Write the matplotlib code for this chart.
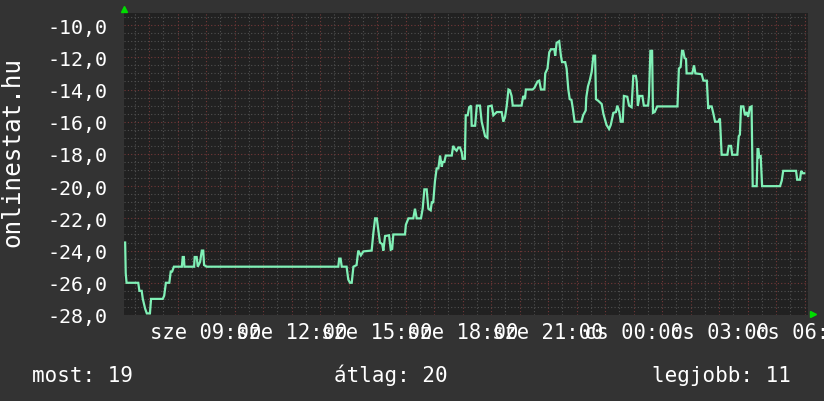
import numpy as np
import matplotlib
matplotlib.use('Agg')
from matplotlib import pyplot as plt
from matplotlib.ticker import FuncFormatter, MultipleLocator

# hours since wed 00:00 and the value
hours = [6.16, 6.18, 6.21, 6.62, 6.66, 6.74, 6.78, 6.86, 6.92, 7.03, 7.07, 7.48, 7.53, 7.59, 7.71,
         7.76, 7.81, 7.87, 8.15, 8.18, 8.22, 8.24, 8.58, 8.60, 8.67, 8.71, 8.79, 8.85, 8.90, 8.93,
         9.02, 13.64, 13.67, 13.72, 13.76, 13.93, 13.99, 14.05, 14.11, 14.17, 14.28, 14.34, 14.43,
         14.52, 14.81, 14.87, 14.93, 14.99, 15.04, 15.10, 15.18, 15.22, 15.28, 15.42, 15.48, 15.53,
         15.57, 15.98, 16.01, 16.10, 16.27, 16.33, 16.39, 16.54, 16.60, 16.66, 16.74, 16.80, 16.88,
         16.92, 16.97, 17.03, 17.09, 17.15, 17.21, 17.27, 17.30, 17.36, 17.41, 17.62, 17.67, 17.73,
         17.79, 17.85, 17.91, 17.97, 18.00, 18.08, 18.11, 18.18, 18.23, 18.30, 18.32, 18.44, 18.50,
         18.61, 18.67, 18.79, 18.87, 18.90, 19.02, 19.08, 19.20, 19.37, 19.43, 19.49, 19.55, 19.61,
         19.66, 19.72, 19.76, 20.07, 20.13, 20.19, 20.22, 20.46, 20.52, 20.63, 20.69, 20.75, 20.87,
         20.90, 20.98, 21.04, 21.10, 21.22, 21.25, 21.30, 21.39, 21.45, 21.49, 21.60, 21.65, 21.71,
         21.76, 21.82, 21.87, 21.93, 22.17, 22.23, 22.32, 22.34, 22.40, 22.46, 22.53, 22.59, 22.65,
         22.68, 22.76, 22.88, 22.94, 23.05, 23.14, 23.20, 23.29, 23.38, 23.43, 23.50, 23.55, 23.62,
         23.66, 23.78, 23.84, 23.93, 23.99, 24.08, 24.11, 24.15, 24.21, 24.31, 24.36, 24.51, 24.54,
         24.59, 24.65, 24.68, 24.74, 24.83, 25.54, 25.59, 25.65, 25.70, 25.74, 25.79, 25.84, 25.86,
         26.06, 26.12, 26.17, 26.39, 26.45, 26.57, 26.62, 26.68, 26.74, 26.80, 26.86, 26.97, 27.03,
         27.09, 27.29, 27.34, 27.42, 27.46, 27.64, 27.69, 27.73, 27.77, 27.85, 27.91, 27.97, 28.02,
         28.08, 28.14, 28.18, 28.32, 28.35, 28.38, 28.41, 28.46, 28.51, 29.14, 29.20, 29.25, 29.70,
         29.74, 29.84, 29.88, 29.93, 29.99]
values = [-23.5, -25.4, -26.0, -26.0, -26.5, -26.5, -27.0, -27.6, -27.9, -27.9, -27.0, -27.0, -26.8,
          -26.0, -26.0, -25.3, -25.3, -25.0, -25.0, -24.4, -24.4, -25.0, -25.0, -24.4, -24.4, -25.0,
          -24.7, -24.0, -24.0, -24.9, -25.0, -25.0, -24.5, -24.5, -25.0, -25.0, -25.8, -26.0, -26.0,
          -25.0, -24.9, -24.0, -24.3, -24.05, -24.0, -22.9, -22.0, -22.0, -22.7, -23.5, -23.6, -24.0,
          -23.1, -23.05, -23.95, -23.9, -23.0, -23.0, -22.4, -22.0, -22.0, -21.4, -22.0, -22.0,
          -21.4, -20.2, -20.2, -21.4, -21.5, -21.0, -21.0, -19.7, -18.9, -18.9, -18.1, -18.8, -18.5,
          -18.5, -18.1, -18.1, -17.5, -17.7, -17.8, -17.6, -17.6, -17.9, -18.3, -18.3, -15.6, -15.6,
          -15.1, -15.0, -16.25, -16.25, -15.0, -15.0, -16.0, -16.9, -17.0, -15.05, -15.0, -15.6,
          -15.4, -15.4, -16.0, -15.7, -15.0, -14.0, -14.05, -14.4, -15.0, -15.0, -14.4, -14.6, -14.0,
          -14.0, -13.9, -13.5, -13.45, -14.0, -14.0, -13.0, -12.7, -11.7, -11.5, -11.5, -11.9, -11.1,
          -11.0, -11.9, -12.3, -12.3, -12.7, -14.0, -14.6, -14.65, -15.2, -16.0, -16.0, -15.6, -15.3,
          -14.5, -13.8, -13.45, -12.9, -11.9, -11.9, -14.6, -14.7, -14.9, -15.5, -16.2, -16.45, -16.2,
          -15.45, -15.4, -15.0, -15.4, -16.0, -16.0, -14.4, -14.45, -15.0, -15.1, -13.15, -13.15,
          -13.5, -15.0, -14.4, -14.4, -15.0, -15.0, -14.4, -11.6, -11.6, -15.45, -15.4, -15.05,
          -15.05, -12.7, -12.6, -11.6, -11.6, -12.05, -12.1, -13.0, -13.0, -12.5, -13.0, -13.05,
          -13.45, -13.45, -15.2, -15.05, -15.05, -15.5, -16.0, -16.0, -15.8, -18.05, -18.05, -17.5,
          -17.5, -18.05, -18.05, -16.9, -16.8, -15.05, -15.05, -15.6, -15.4, -15.7, -15.1, -15.05,
          -20.0, -20.0, -17.7, -17.7, -18.2, -18.15, -20.0, -20.0, -19.65, -19.05, -19.05, -19.6,
          -19.6, -19.05, -19.2, -19.2]

label_hours = [9, 12, 15, 18, 21, 24, 27, 30]
label_text = ['sze 09:00', 'sze 12:00', 'sze 15:00', 'sze 18:00', 'sze 21:00',
              'cs 00:00', 'cs 03:00', 'cs 06:00']
summary = ['most: 19', 'átlag: 20', 'legjobb: 11']

bg = '#333333'
plot_bg = '#212121'
mono = 'DejaVu Sans Mono'

fig = plt.figure(figsize=(8.24, 4.02), dpi=100, facecolor=bg)
ax = fig.add_axes([124/824, 86/402, 684/824, 302/402])
ax.set_facecolor(plot_bg)

ax.plot(hours, values, color='#80f0b6', lw=1.6, solid_joinstyle='miter', zorder=3)

ax.set_xlim(6.12, 30.12)
ax.set_ylim(-28, -9.25)

# x: red line every hour, grey every half hour, label every 3 hours
hour_ticks = np.arange(7, 31)
ax.set_xticks(hour_ticks)
ax.set_xticklabels([label_text[label_hours.index(h)] if h in label_hours else '' for h in hour_ticks])
ax.xaxis.set_minor_locator(MultipleLocator(0.5))
ax.set_yticks(np.arange(-28, -9, 2))
ax.yaxis.set_minor_locator(MultipleLocator(0.5))
ax.yaxis.set_major_formatter(FuncFormatter(lambda v, p: ('%.1f' % v).replace('.', ',')))

ax.grid(which='minor', color='#505050', lw=0.8, ls=(0, (1, 2)), zorder=1)
ax.grid(which='major', color='#733838', lw=0.8, ls=(0, (1, 2)), zorder=2)
ax.set_axisbelow(True)

ax.tick_params(which='both', length=0, colors='white')
ax.tick_params(axis='x', pad=5, labelsize=14.8)
ax.tick_params(axis='y', pad=12, labelsize=14.4)
for t in ax.get_xticklabels() + ax.get_yticklabels():
    t.set_family(mono)
for s in ax.spines.values():
    s.set_visible(False)

# little green arrows at the axis ends
ax.plot([0], [1.012], marker='^', color='#00dd00', ms=5, transform=ax.transAxes, clip_on=False)
ax.plot([1.007], [0.004], marker='>', color='#00dd00', ms=5, transform=ax.transAxes, clip_on=False)

fig.text(12/824, (402-152)/402, 'onlinestat.hu', rotation=90, ha='center', va='center',
         color='white', fontsize=17.5, family=mono)

for txt, cx in zip(summary, [83, 391, 721]):
    fig.text(cx/824, (402-382)/402, txt, ha='center', va='baseline', color='white',
             fontsize=15, family=mono)

fig.savefig('out.png', dpi=100, facecolor=bg)
